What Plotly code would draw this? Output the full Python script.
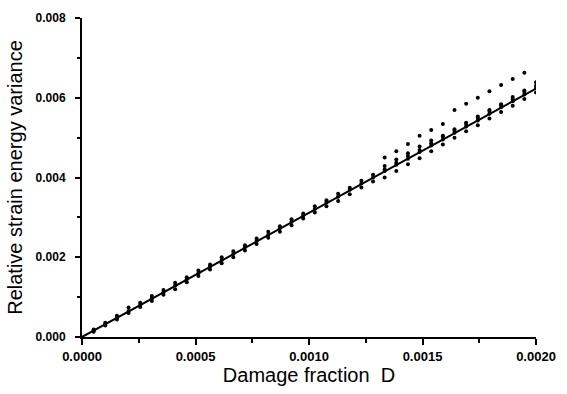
import plotly.graph_objects as go

# Damage fraction positions of the measurement clusters
D = [0.0000513, 0.0001026, 0.0001538, 0.0002051, 0.0002564, 0.0003077, 0.0003590,
     0.0004103, 0.0004615, 0.0005128, 0.0005641, 0.0006154, 0.0006667, 0.0007179,
     0.0007692, 0.0008205, 0.0008718, 0.0009231, 0.0009744, 0.0010256, 0.0010769,
     0.0011282, 0.0011795, 0.0012308, 0.0012821, 0.0013333, 0.0013846, 0.0014359,
     0.0014872, 0.0015385, 0.0015897, 0.0016410, 0.0016923, 0.0017436, 0.0017949,
     0.0018462, 0.0018974, 0.0019487, 0.0020000]

# Scatter of relative strain energy variance (several damage cases)
y_a = [0.00019, 0.00036, 0.00053, 0.00074, 0.00086, 0.00103, 0.00118, 0.00136, 0.00150,
       0.00167, 0.00182, 0.00200, 0.00215, 0.00230, 0.00247, 0.00264, 0.00278, 0.00295,
       0.00310, 0.00328, 0.00343, 0.00359, 0.00374, 0.00392, 0.00407, 0.00421, 0.00437,
       0.00454, 0.00469, 0.00486, 0.00503, 0.00517, 0.00534, 0.00549, 0.00567, 0.00582,
       0.00597, 0.00615, 0.00630]
y_b = [0.00016, 0.00033, 0.00048, 0.00065, 0.00081, 0.00097, 0.00112, 0.00129, 0.00145,
       0.00160, 0.00177, 0.00193, 0.00208, 0.00225, 0.00241, 0.00256, 0.00273, 0.00289,
       0.00304, 0.00321, 0.00337, 0.00352, 0.00369, 0.00385, 0.00400, 0.00416, 0.00432,
       0.00447, 0.00464, 0.00480, 0.00495, 0.00512, 0.00528, 0.00543, 0.00560, 0.00576,
       0.00591, 0.00608, 0.00624]
y_c = [0.00013, 0.00029, 0.00044, 0.00060, 0.00075, 0.00090, 0.00106, 0.00120, 0.00137,
       0.00153, 0.00169, 0.00185, 0.00200, 0.00217, 0.00233, 0.00249, 0.00264, 0.00280,
       0.00297, 0.00312, 0.00328, 0.00341, 0.00358, 0.00375, 0.00390, 0.00400, 0.00416,
       0.00433, 0.00448, 0.00466, 0.00483, 0.00500, 0.00516, 0.00531, 0.00548, 0.00564,
       0.00580, 0.00597, 0.00613]
D_d = D[25:]
y_d = [0.00429, 0.00445, 0.00461, 0.00478, 0.00493, 0.00505, 0.00521, 0.00537, 0.00553,
       0.00569, 0.00584, 0.00602, 0.00618, 0.00639]
D_e = D[25:38]
y_e = [0.00450, 0.00466, 0.00484, 0.00505, 0.00519, 0.00534, 0.00569, 0.00585, 0.00600,
       0.00616, 0.00632, 0.00647, 0.00663]

# Linear fit
fit_x = [0.0, 0.0020]
fit_y = [0.0, 0.00623]

fig = go.Figure()
mk = dict(color="black", size=4, symbol="circle")
for xs, ys in [(D, y_a), (D, y_b), (D, y_c), (D_d, y_d), (D_e, y_e)]:
    fig.add_trace(go.Scatter(x=xs, y=ys, mode="markers", marker=mk, showlegend=False))
fig.add_trace(go.Scatter(x=fit_x, y=fit_y, mode="lines",
                         line=dict(color="black", width=2), showlegend=False))

xtickfont = dict(family="Liberation Sans, Arial", size=13, color="black")
ytickfont = dict(family="Liberation Sans, Arial", size=12, color="black")
titlefont = dict(family="Liberation Sans, Arial", size=20, color="black")

fig.update_layout(
    width=567, height=394,
    margin=dict(l=82, r=26, t=11, b=57),
    paper_bgcolor="white", plot_bgcolor="white",
    font=dict(family="Liberation Sans, Arial", color="black"),
)
fig.update_xaxes(
    range=[0, 0.0020], tickvals=[0, 0.0005, 0.0010, 0.0015, 0.0020],
    ticktext=["<b>0.0000</b>", "<b>0.0005</b>", "<b>0.0010</b>", "<b>0.0015</b>", "<b>0.0020</b>"],
    ticks="outside", ticklen=6, tickwidth=1.5, tickcolor="black",
    minor=dict(ticks="outside", ticklen=4, tickwidth=1.5, tickcolor="black", dtick=0.00025, tick0=0, showgrid=False),
    showline=True, linewidth=2, linecolor="black", showgrid=False, zeroline=False,
    tickfont=xtickfont,
    title=dict(text="Damage fraction  D", font=titlefont, standoff=2),
)
fig.update_yaxes(
    range=[0, 0.008], tickvals=[0, 0.002, 0.004, 0.006, 0.008],
    ticktext=["<b>0.000</b>", "<b>0.002</b>", "<b>0.004</b>", "<b>0.006</b>", "<b>0.008</b>"],
    ticks="outside", ticklen=5, tickwidth=1.5, tickcolor="black",
    minor=dict(ticks="outside", ticklen=3, tickwidth=1.5, tickcolor="black", dtick=0.001, tick0=0, showgrid=False),
    showline=True, linewidth=2, linecolor="black", showgrid=False, zeroline=False,
    tickfont=ytickfont, ticklabelstandoff=7,
    title=dict(text="Relative strain energy variance", font=titlefont, standoff=8),
)
fig.write_html("out.html")
